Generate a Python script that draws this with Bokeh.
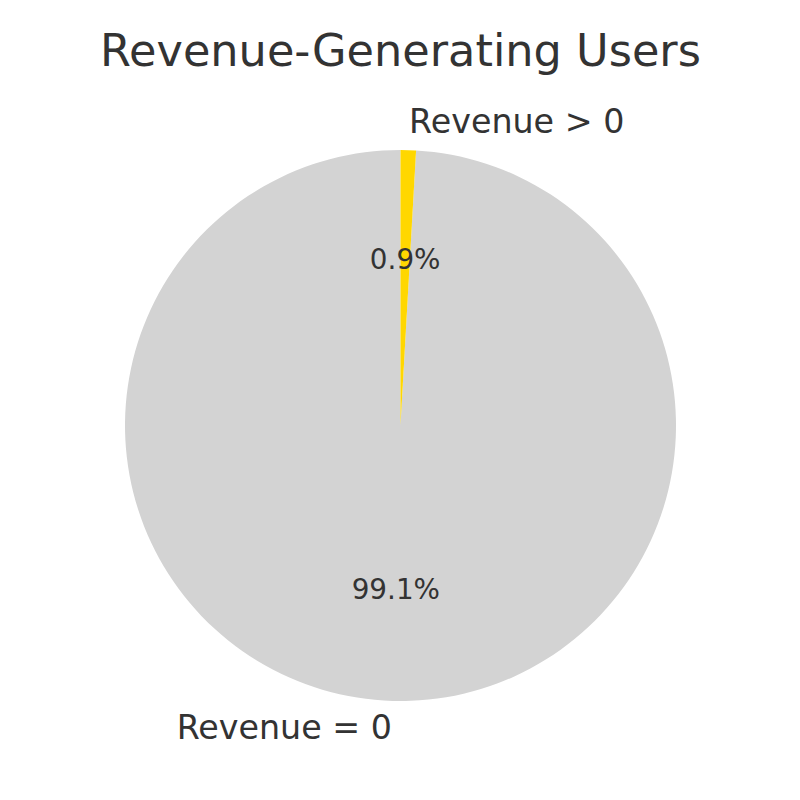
import math
from bokeh.plotting import figure
from bokeh.models import Range1d, ColumnDataSource
from bokeh.core.properties import value
from bokeh.embed import file_html
from bokeh.resources import INLINE

title = "Revenue-Generating Users"
labels = ["Revenue = 0", "Revenue > 0"]
shares = [99.1, 0.9]
colors = ["#d3d3d3", "#ffd700"]

W = H = 800
cx, cy, r = 400, 800 - 425, 275.5
start = 90.0

p = figure(width=W, height=H, output_backend="svg", toolbar_location=None,
           x_range=Range1d(0, W), y_range=Range1d(0, H), min_border=0)
p.axis.visible = False
p.grid.visible = False
p.outline_line_color = None
p.background_fill_color = "white"
p.border_fill_color = "white"

total = sum(shares)
a0 = start
starts, ends, mids = [], [], []
for s in shares:
    a1 = a0 + 360.0 * s / total
    starts.append(math.radians(a0))
    ends.append(math.radians(a1))
    mids.append(math.radians((a0 + a1) / 2))
    a0 = a1

src = ColumnDataSource(dict(x=[cx] * len(shares), y=[cy] * len(shares),
                            start=starts, end=ends, color=colors))
p.wedge(x="x", y="y", radius=r, start_angle="start", end_angle="end",
        fill_color="color", line_color=None, source=src)

font = value("DejaVu Sans")
# outer labels
for lab, m in zip(labels, mids):
    lx = cx + 1.1 * r * math.cos(m)
    ly = cy + 1.1 * r * math.sin(m) + 1
    p.text(x=[lx], y=[ly], text=[lab], text_font=font, text_font_size="33.3px",
           text_color="#333333", text_align="left" if math.cos(m) >= 0 else "right",
           text_baseline="middle")
# percentages
for s, m in zip(shares, mids):
    px = cx + 0.6 * r * math.cos(m)
    py = cy + 0.6 * r * math.sin(m) + 1
    p.text(x=[px], y=[py], text=["%.1f%%" % s], text_font=font, text_font_size="27.8px",
           text_color="#333333", text_align="center", text_baseline="middle")

p.text(x=[400], y=[800 - 50], text=[title], text_font=font, text_font_size="44.6px",
       text_color="#333333", text_align="center", text_baseline="middle")

open("out.html", "w").write(file_html(p, INLINE))
